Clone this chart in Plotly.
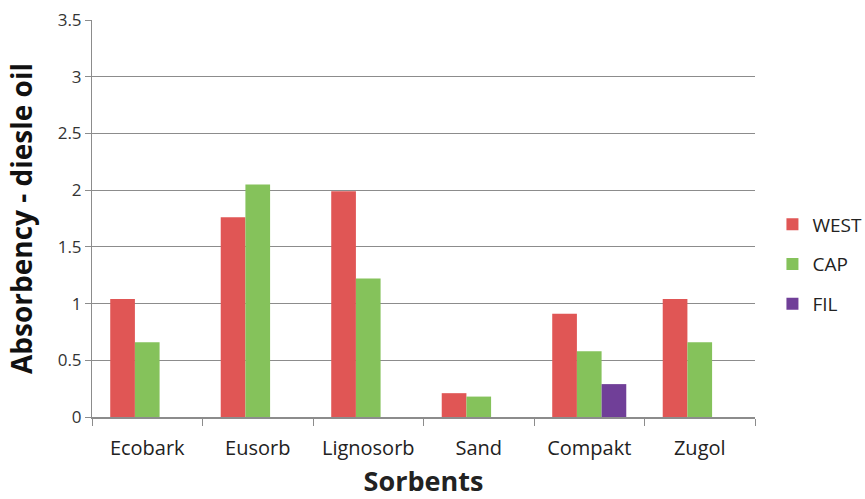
import plotly.graph_objects as go

categories = ["Ecobark", "Eusorb", "Lignosorb", "Sand", "Compakt", "Zugol"]
west = [1.04, 1.76, 1.99, 0.21, 0.91, 1.04]
cap = [0.66, 2.05, 1.22, 0.18, 0.58, 0.66]
fil = [None, None, None, None, 0.29, None]

series = [("WEST", west, "#E05655"), ("CAP", cap, "#85C25B"), ("FIL", fil, "#703F98")]

fig = go.Figure()
for name, vals, col in series:
    fig.add_trace(go.Bar(x=categories, y=vals, name=name, marker_color=col,
                         marker_line_width=0, legendgroup=name))

font = "Open Sans, Liberation Sans, sans-serif"
fig.update_layout(
    width=865, height=499,
    margin=dict(l=92, r=110, t=20, b=82),
    plot_bgcolor="white", paper_bgcolor="white",
    barmode="group", bargap=0.33, bargroupgap=0,
    font=dict(family=font, color="#222222"),
    legend=dict(xref="container", yref="container", x=0.893, xanchor="left",
                y=0.47, yanchor="middle", font=dict(size=19),
                tracegroupgap=12, itemwidth=30, bgcolor="rgba(0,0,0,0)"),
    showlegend=True,
)
fig.update_yaxes(range=[0, 3.5], dtick=0.5, showgrid=True, gridcolor="#8C8C8C", gridwidth=1,
                 showline=True, linecolor="#8C8C8C", linewidth=1, ticks="outside", ticklen=6,
                 tickcolor="#8C8C8C", tickfont=dict(size=17, color="#333333"), zeroline=False,
                 automargin=False,
                 title=dict(text="<b>Absorbency - diesle oil</b>", font=dict(size=28, color="#111111"), standoff=16))
fig.update_xaxes(showline=True, linecolor="#8C8C8C", linewidth=1.5, ticks="outside", ticklen=7,
                 tickcolor="#8C8C8C", tickson="boundaries", tickfont=dict(size=20, color="#222222"),
                 ticklabelstandoff=12, automargin=False,
                 title=dict(text="<b>Sorbents</b>", font=dict(size=27, color="#222222"), standoff=20))

fig.write_html("out.html")
